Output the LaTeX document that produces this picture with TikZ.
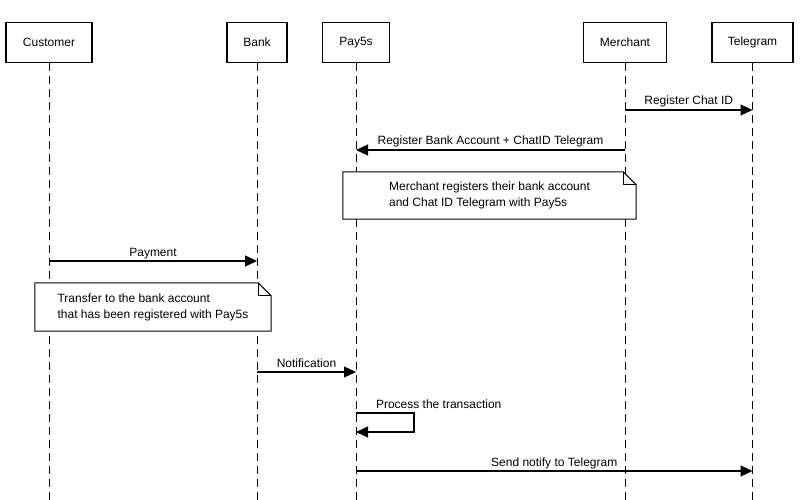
\documentclass[tikz,border=0pt]{standalone}
\usepackage{fontspec}
\setmainfont{Liberation Sans}
\usetikzlibrary{arrows.meta}
\begin{document}
\begin{tikzpicture}[x=1pt,y=-1pt,
  font=\fontsize{12}{16}\selectfont,
  actor/.style={draw, line width=1.8pt, minimum height=40pt, inner sep=0pt},
  life/.style={line width=1pt, dash pattern=on 8pt off 5pt},
  msg/.style={line width=1.1pt, -{Triangle[length=12pt,width=11pt]}},
  lbl/.style={above, inner ysep=2pt, inner xsep=0pt, text depth=3pt, outer sep=0pt},
  notebox/.style={minimum width=#1, minimum height=48pt, align=left, inner sep=0pt},
  notedraw/.style={draw, line width=1pt, fill=white, line join=miter}
]
\useasboundingbox[fill=white] (0,0) rectangle (800,500);
\coordinate (bot) at (0,500);

% participants
\node[actor, minimum width=86pt] (cust) at (49,42.5) {Customer};
\node[actor, minimum width=60pt] (bank) at (257,42.5) {Bank};
\node[actor, minimum width=67pt] (pay) at (356,42.5) {Pay5s};
\node[actor, minimum width=83pt] (merch) at (625,42.5) {Merchant};
\node[actor, minimum width=81pt] (tele) at (752.5,42.5) {Telegram};

% lifelines
\foreach \p in {cust,bank,pay,merch,tele}
  \draw[life] (\p.south) -- (\p.south |- bot);

% message anchor points
\coordinate (m1a) at (merch.south |- 0,110);
\coordinate (m1b) at (tele.south |- 0,110);
\coordinate (m2a) at (merch.south |- 0,150);
\coordinate (m2b) at (pay.south |- 0,150);
\coordinate (m3a) at (cust.south |- 0,261);
\coordinate (m3b) at (bank.south |- 0,261);
\coordinate (m4a) at (bank.south |- 0,372);
\coordinate (m4b) at (pay.south |- 0,372);
\coordinate (m5a) at (pay.south |- 0,413);
\coordinate (m5r1) at (414,413);
\coordinate (m5r2) at (414,432);
\coordinate (m5b) at (pay.south |- 0,432);
\coordinate (m6a) at (pay.south |- 0,471);
\coordinate (m6b) at (tele.south |- 0,471);

% messages
\draw[msg] (m1a) -- node[lbl] {Register Chat ID} (m1b);
\draw[msg] (m2a) -- node[lbl] {Register Bank Account + ChatID Telegram} (m2b);
\draw[msg] (m3a) -- node[lbl] {Payment} (m3b);
\draw[msg] (m4a) -- node[lbl] {Notification} (m4b);
\draw[msg] (m5a) -- (m5r1) -- (m5r2) -- (m5b);
\node[lbl, anchor=south west] (m5l) at ([xshift=20pt]m5a) {Process the transaction};
\draw[msg] (m6a) -- node[lbl] {Send notify to Telegram} (m6b);

% notes
\node[notebox=293pt, minimum height=47pt] (n1) at (489.5,195.5) {};
\draw[notedraw] (n1.north west) -- ([xshift=-13pt]n1.north east) -- ([yshift=-13pt]n1.north east) -- (n1.south east) -- (n1.south west) -- cycle;
\draw[line width=1pt] ([xshift=-13pt]n1.north east) -- ++(0,13) -- ++(13,0);
\node[align=left, inner sep=0pt] (n1t) at (n1.center) {Merchant registers their bank account\\and Chat ID Telegram with Pay5s};

\node[notebox=236pt, minimum height=48pt] (n2) at (153,307) {};
\draw[notedraw] (n2.north west) -- ([xshift=-13pt]n2.north east) -- ([yshift=-13pt]n2.north east) -- (n2.south east) -- (n2.south west) -- cycle;
\draw[line width=1pt] ([xshift=-13pt]n2.north east) -- ++(0,13) -- ++(13,0);
\node[align=left, inner sep=0pt] (n2t) at (n2.center) {Transfer to the bank account\\that has been registered with Pay5s};
\end{tikzpicture}
\end{document}
